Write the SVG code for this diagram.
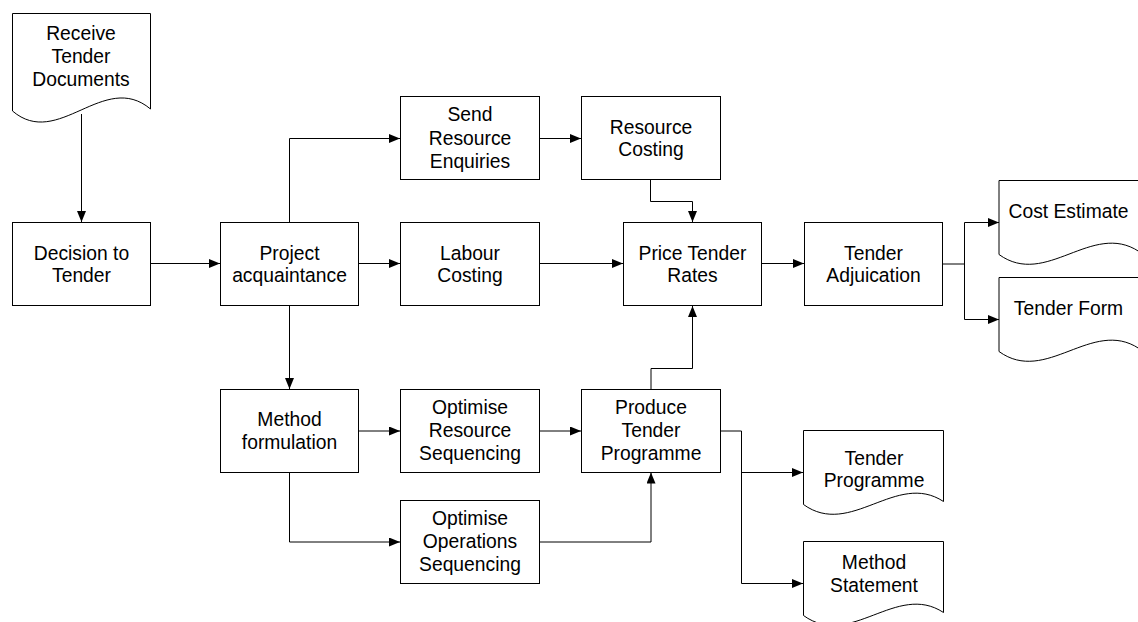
<svg xmlns="http://www.w3.org/2000/svg" width="1138" height="622" viewBox="0 0 1138 622">
  <style>
    .box { fill: #ffffff; stroke: #000000; stroke-width: 1; }
    .doc { fill: #ffffff; stroke: #000000; stroke-width: 1; }
    .lbl { font-family: "Liberation Sans", Arial, sans-serif; font-size: 19.3px; fill: #000000; text-anchor: middle; }
    .conn { fill: none; stroke: #000000; stroke-width: 1; }
  </style>
  <defs>
    <marker id="arrow" markerUnits="userSpaceOnUse" markerWidth="11" markerHeight="9" refX="11" refY="4.5" orient="auto">
      <path d="M0,0 L11,4.5 L0,9 Z" fill="#000000"/>
    </marker>
    <!-- document shape: 140 wide, wavy bottom edge -->
    <path id="docShape" d="M0,0 H140 V71 C93,40 47,108 0,74 Z"/>
  </defs>

  <rect width="1138" height="622" fill="#ffffff"/>

  <!-- connectors -->
  <g id="connectors" class="conn" marker-end="url(#arrow)">
    <path d="M81.5,114 V222"/>
    <path d="M150.5,263.5 H220"/>
    <path d="M289.5,222.5 V138.5 H400"/>
    <path d="M358.5,263.5 H400"/>
    <path d="M289.5,305.5 V389"/>
    <path d="M540,138.5 H581"/>
    <path d="M650.5,179.5 V201.5 H692.5 V222"/>
    <path d="M540,263.5 H623"/>
    <path d="M762,263.5 H804"/>
    <path d="M943,264 H964.5 V222.5 H999"/>
    <path d="M964.5,264 V319.5 H999"/>
    <path d="M358.5,431 H400"/>
    <path d="M289.5,472 V542 H400"/>
    <path d="M540,431 H581"/>
    <path d="M540,542 H651 V472.5"/>
    <path d="M651,389 V368.5 H692.5 V306"/>
    <path d="M720.5,431 H741.5 V583.5 H803"/>
    <path d="M741.5,472.5 H803"/>
  </g>

  <!-- input document -->
  <g id="receive-tender-documents">
    <path class="doc" d="M12.5,13.5 H150.5 V109 C104,70 58,150 12.5,111 Z"/>
    <text class="lbl" x="81" y="39.5">Receive</text>
    <text class="lbl" x="81" y="62.5">Tender</text>
    <text class="lbl" x="81" y="85.5">Documents</text>
  </g>

  <!-- process steps -->
  <g id="decision-to-tender">
    <rect class="box" x="12.5" y="222.5" width="138" height="83"/>
    <text class="lbl" x="81.5" y="259.5">Decision to</text>
    <text class="lbl" x="81.5" y="282">Tender</text>
  </g>

  <g id="project-acquaintance">
    <rect class="box" x="220.5" y="222.5" width="138" height="83"/>
    <text class="lbl" x="289.5" y="259.5">Project</text>
    <text class="lbl" x="289.5" y="282">acquaintance</text>
  </g>

  <g id="send-resource-enquiries">
    <rect class="box" x="400.5" y="96.5" width="139" height="83"/>
    <text class="lbl" x="470" y="121">Send</text>
    <text class="lbl" x="470" y="144.5">Resource</text>
    <text class="lbl" x="470" y="167.5">Enquiries</text>
  </g>

  <g id="resource-costing">
    <rect class="box" x="581.5" y="96.5" width="139" height="83"/>
    <text class="lbl" x="651" y="133.5">Resource</text>
    <text class="lbl" x="651" y="156">Costing</text>
  </g>

  <g id="labour-costing">
    <rect class="box" x="400.5" y="222.5" width="139" height="83"/>
    <text class="lbl" x="470" y="259.5">Labour</text>
    <text class="lbl" x="470" y="282">Costing</text>
  </g>

  <g id="price-tender-rates">
    <rect class="box" x="623.5" y="222.5" width="138" height="83"/>
    <text class="lbl" x="692.5" y="259.5">Price Tender</text>
    <text class="lbl" x="692.5" y="282">Rates</text>
  </g>

  <g id="tender-adjuication">
    <rect class="box" x="804.5" y="222.5" width="138" height="83"/>
    <text class="lbl" x="873.5" y="259.5">Tender</text>
    <text class="lbl" x="873.5" y="282">Adjuication</text>
  </g>

  <g id="method-formulation">
    <rect class="box" x="220.5" y="389.5" width="138" height="83"/>
    <text class="lbl" x="289.5" y="425.5">Method</text>
    <text class="lbl" x="289.5" y="448.5">formulation</text>
  </g>

  <g id="optimise-resource-sequencing">
    <rect class="box" x="400.5" y="389.5" width="139" height="83"/>
    <text class="lbl" x="470" y="413.5">Optimise</text>
    <text class="lbl" x="470" y="436.5">Resource</text>
    <text class="lbl" x="470" y="459.5">Sequencing</text>
  </g>

  <g id="produce-tender-programme">
    <rect class="box" x="581.5" y="389.5" width="139" height="83"/>
    <text class="lbl" x="651" y="413.5">Produce</text>
    <text class="lbl" x="651" y="436.5">Tender</text>
    <text class="lbl" x="651" y="459.5">Programme</text>
  </g>

  <g id="optimise-operations-sequencing">
    <rect class="box" x="400.5" y="500.5" width="139" height="83"/>
    <text class="lbl" x="470" y="525">Optimise</text>
    <text class="lbl" x="470" y="548">Operations</text>
    <text class="lbl" x="470" y="571">Sequencing</text>
  </g>

  <!-- output documents -->
  <g id="cost-estimate">
    <use class="doc" href="#docShape" x="999" y="180.5"/>
    <text class="lbl" x="1068.5" y="218">Cost Estimate</text>
  </g>

  <g id="tender-form">
    <use class="doc" href="#docShape" x="999" y="277.5"/>
    <text class="lbl" x="1068.5" y="315">Tender Form</text>
  </g>

  <g id="tender-programme">
    <use class="doc" href="#docShape" x="803.5" y="430.5"/>
    <text class="lbl" x="874" y="464.5">Tender</text>
    <text class="lbl" x="874" y="487">Programme</text>
  </g>

  <g id="method-statement">
    <use class="doc" href="#docShape" x="803.5" y="541.5"/>
    <text class="lbl" x="874" y="569">Method</text>
    <text class="lbl" x="874" y="591.5">Statement</text>
  </g>
</svg>
